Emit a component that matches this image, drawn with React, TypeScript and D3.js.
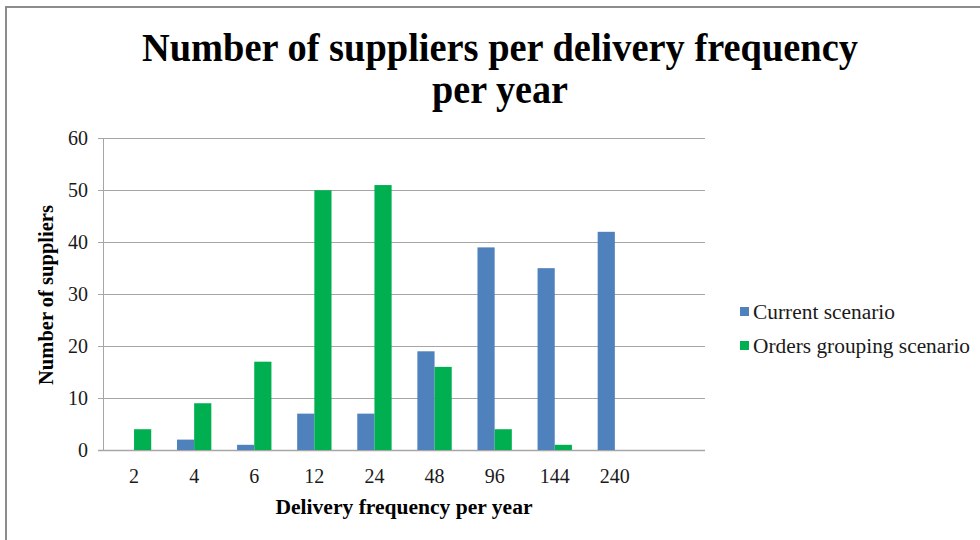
import React from "react";
import * as d3 from "d3";

const categories = ["2", "4", "6", "12", "24", "48", "96", "144", "240", ""];
const seriesNames = ["Current scenario", "Orders grouping scenario"];
const currentValues = [0, 2, 1, 7, 7, 19, 39, 35, 42, null];
const groupingValues = [4, 9, 17, 50, 51, 16, 4, 1, 0, null];
const yTicks = [0, 10, 20, 30, 40, 50, 60];
const colors = ["#4F81BD", "#00B050"];

export default function App() {
  const W = 980, H = 540;
  const left = 104, right = 705, top = 138.3, bottom = 450;
  const x = d3.scaleBand<string>().domain(categories.map((c, i) => i + ":" + c)).range([left, right]).paddingInner(0).paddingOuter(0);
  const y = d3.scaleLinear().domain([0, 60]).range([bottom, top]);
  const step = x.step();
  const barW = step / 3.5;
  const series = [currentValues, groupingValues];
  const serif = "'Liberation Serif', 'Times New Roman', serif";
  const legendWidths = [142, 217];
  return (
    <svg width={W} height={H} style={{ position: "absolute", left: 0, top: 0, background: "#fff" }} fontFamily={serif}>
      <rect x={0} y={0} width={W} height={H} fill="#fff" />
      <rect x={6} y={7} width={1100} height={700} fill="none" stroke="#8c8c8c" strokeWidth={2} />
      <text x={500} y={61} textAnchor="middle" fontWeight="bold" fontSize={40} textLength={716} lengthAdjust="spacingAndGlyphs">Number of suppliers per delivery frequency</text>
      <text x={500} y={103} textAnchor="middle" fontWeight="bold" fontSize={40} textLength={136} lengthAdjust="spacingAndGlyphs">per year</text>
      {yTicks.map((t) => (
        <g key={t}>
          <line x1={98} x2={right} y1={Math.round(y(t)) + 0.5} y2={Math.round(y(t)) + 0.5} stroke="#a6a6a6" strokeWidth={t === 0 ? 1.5 : 1} />
          <text x={88} y={y(t) + 7} textAnchor="end" fontSize={20} fill="#1a1a1a">{t}</text>
        </g>
      ))}
      <line x1={left - 0.5} x2={left - 0.5} y1={top} y2={bottom} stroke="#a6a6a6" />
      {categories.map((c, i) => {
        const key = i + ":" + c;
        const x0 = (x(key) as number) + (step - 2 * barW) / 2;
        return (
          <g key={key}>
            {series.map((s, si) => {
              const v = s[i];
              if (v == null || v === 0) return null;
              return <rect key={si} x={x0 + si * barW} y={y(v)} width={barW} height={y(0) - y(v)} fill={colors[si]} />;
            })}
            <text x={(x(key) as number) + step / 2} y={483} textAnchor="middle" fontSize={20} fill="#1a1a1a">{c}</text>
          </g>
        );
      })}
      <text x={404} y={514} textAnchor="middle" fontWeight="bold" fontSize={20} textLength={257} lengthAdjust="spacingAndGlyphs">Delivery frequency per year</text>
      <text transform={`translate(53,295) rotate(-90)`} textAnchor="middle" fontWeight="bold" fontSize={20} textLength={180} lengthAdjust="spacingAndGlyphs">Number of suppliers</text>
      {seriesNames.map((n, i) => (
        <g key={n}>
          <rect x={740} y={307 + i * 34} width={9} height={9} fill={colors[i]} />
          <text x={753} y={319 + i * 34} fontSize={20} fill="#1a1a1a" textLength={legendWidths[i]} lengthAdjust="spacingAndGlyphs">{n}</text>
        </g>
      ))}
    </svg>
  );
}
